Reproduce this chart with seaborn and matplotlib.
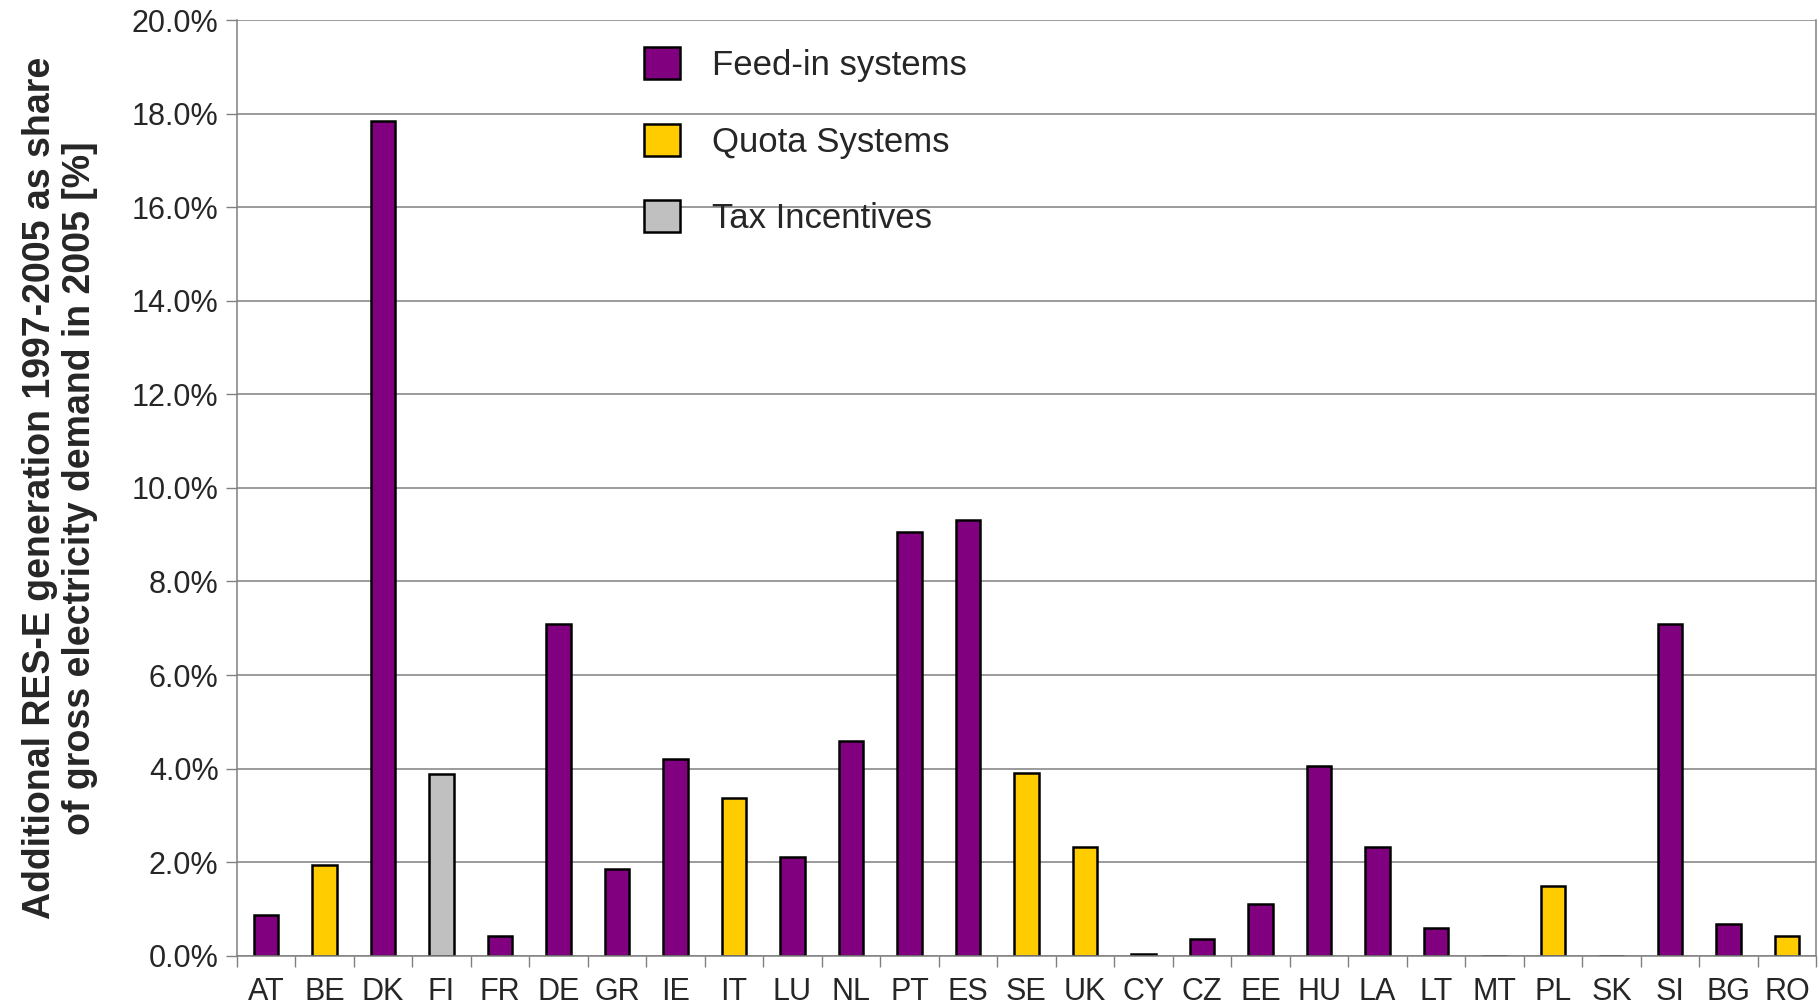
import pandas as pd
import seaborn as sns
import matplotlib.pyplot as plt
from matplotlib.patches import Patch
from matplotlib.ticker import FixedLocator, FuncFormatter

countries = ["AT", "BE", "DK", "FI", "FR", "DE", "GR", "IE", "IT", "LU", "NL", "PT", "ES", "SE",
             "UK", "CY", "CZ", "EE", "HU", "LA", "LT", "MT", "PL", "SK", "SI", "BG", "RO"]
share = [0.86, 1.93, 17.85, 3.88, 0.43, 7.10, 1.85, 4.20, 3.37, 2.11, 4.60, 9.05, 9.32, 3.91,
         2.33, 0.03, 0.36, 1.10, 4.06, 2.33, 0.60, 0.0, 1.49, 0.0, 7.10, 0.68, 0.42]
scheme = ["Feed-in systems", "Quota Systems", "Feed-in systems", "Tax Incentives",
          "Feed-in systems", "Feed-in systems", "Feed-in systems", "Feed-in systems",
          "Quota Systems", "Feed-in systems", "Feed-in systems", "Feed-in systems",
          "Feed-in systems", "Quota Systems", "Quota Systems", "Feed-in systems",
          "Feed-in systems", "Feed-in systems", "Feed-in systems", "Feed-in systems",
          "Feed-in systems", "Feed-in systems", "Quota Systems", "Feed-in systems",
          "Feed-in systems", "Feed-in systems", "Quota Systems"]
schemes = ["Feed-in systems", "Quota Systems", "Tax Incentives"]
colors = {"Feed-in systems": "#800080", "Quota Systems": "#FFCC00", "Tax Incentives": "#C0C0C0"}
yticks = [0, 2, 4, 6, 8, 10, 12, 14, 16, 18, 20]

df = pd.DataFrame({"country": countries, "share": share, "scheme": scheme})

sns.set_theme(style="white")
plt.rcParams["font.family"] = ["Liberation Sans", "DejaVu Sans"]

fig, ax = plt.subplots(figsize=(18.2, 10.06), dpi=100)
fig.subplots_adjust(left=0.130, right=0.998, top=0.980, bottom=0.050)

sns.barplot(data=df, x="country", y="share", hue="scheme", hue_order=schemes,
            palette=colors, saturation=1, dodge=False, width=0.42, edgecolor="black",
            linewidth=1.8, legend=False, ax=ax)

ax.set_ylim(0, 20)
ax.set_xlim(-0.5, len(countries) - 0.5)
ax.yaxis.set_major_locator(FixedLocator(yticks))
ax.yaxis.set_major_formatter(FuncFormatter(lambda v, p: f"{v:.1f}%"))
ax.yaxis.grid(True, color="#808080", linewidth=1.1)
ax.set_axisbelow(True)

# Excel style: tick marks between categories, labels centred
ax.set_xticks([i - 0.5 for i in range(len(countries) + 1)], minor=True)
ax.tick_params(axis="x", which="major", length=0, pad=15, labelsize=22)
ax.tick_params(axis="x", which="minor", length=8, width=1, color="#808080",
               direction="out", bottom=True)
ax.tick_params(axis="y", which="major", length=8, width=1, color="#808080",
               direction="out", left=True, labelsize=22, pad=5)

for side in ["left", "bottom", "right"]:
    ax.spines[side].set_color("#808080")
    ax.spines[side].set_linewidth(1.1)
ax.spines["top"].set_visible(False)

ax.set_xlabel("")
ax.set_ylabel("Additional RES-E generation 1997-2005 as share\nof gross electricity demand in 2005 [%]",
              fontsize=27, fontweight="bold", va="center", linespacing=1.15)
ax.yaxis.set_label_coords(-0.112, 0.5)

handles = [Patch(facecolor=colors[s], edgecolor="black", linewidth=1.8, label=s) for s in schemes]
ax.legend(handles=handles, loc="upper left", bbox_to_anchor=(0.354, 0.953),
          bbox_transform=fig.transFigure, frameon=False, fontsize=25, borderpad=0,
          borderaxespad=0, handlelength=1.04, handleheight=1.04, handletextpad=0.9,
          labelspacing=1.2)

fig.savefig("out.png", dpi=100)
